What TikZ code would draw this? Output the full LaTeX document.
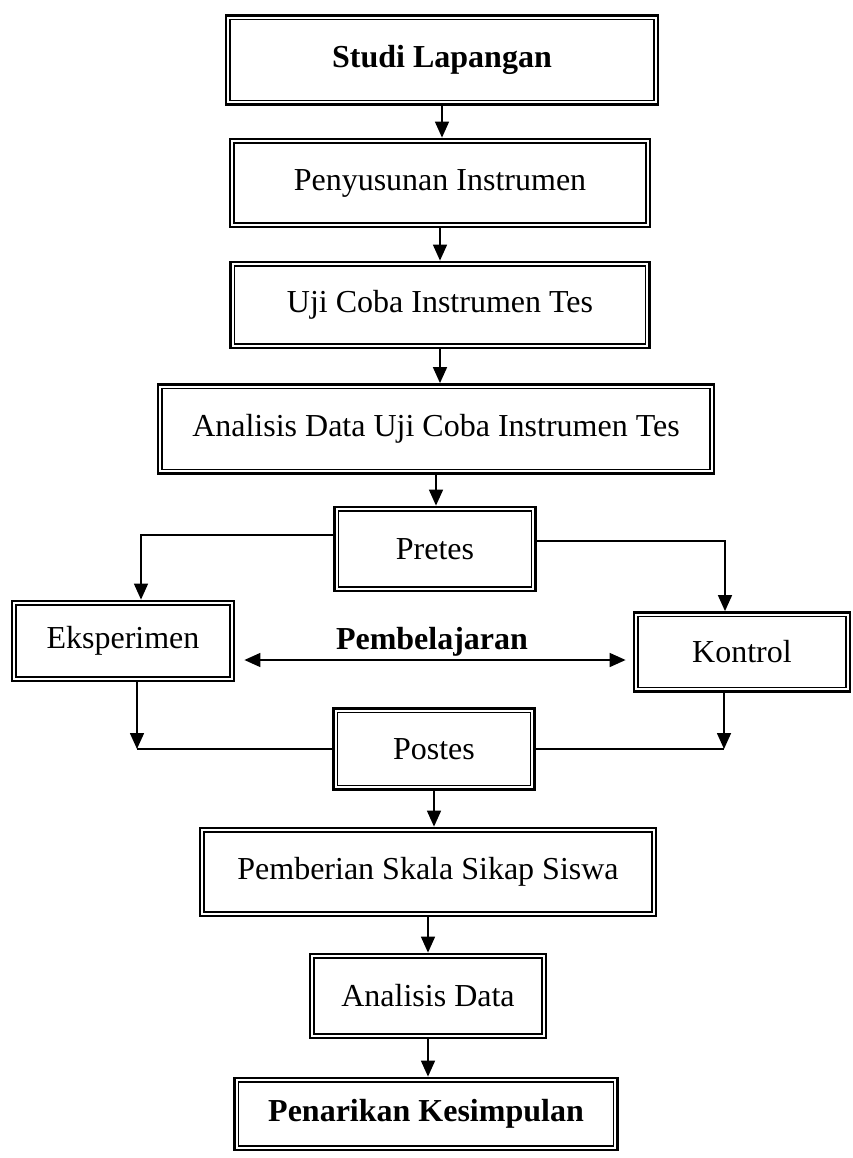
\documentclass[tikz,border=0pt]{standalone}
\usepackage{fontspec}
\setmainfont{Liberation Serif}
\usetikzlibrary{arrows.meta}
\tikzset{
  box/.style={draw, line width=2.8pt, inner sep=0pt, align=center,
    font=\fontsize{32}{38}\selectfont},
  boldbox/.style={box, font=\fontsize{32}{38}\selectfont\bfseries},
  inner/.style={line width=1.4pt},
  conn/.style={line width=1.6pt},
  arr/.style={conn, -{Triangle[length=16pt,width=14pt]}},
  dblarr/.style={conn, {Triangle[length=16pt,width=14pt]}-{Triangle[length=16pt,width=14pt]}}
}
\begin{document}
\begin{tikzpicture}[x=1pt,y=-1pt]
\useasboundingbox (0,0) rectangle (852,1158);
\node[boldbox, minimum width=432pt, minimum height=89pt] (studi) at (442,60) {Studi Lapangan};
\node[box, minimum width=420pt, minimum height=88pt] (susun) at (440,183) {Penyusunan Instrumen};
\node[box, minimum width=419pt, minimum height=86pt] (uji) at (440,305) {Uji Coba Instrumen Tes};
\node[box, minimum width=556pt, minimum height=89pt] (anauji) at (436,429) {Analisis Data Uji Coba Instrumen Tes};
\node[box, minimum width=201pt, minimum height=84pt] (pretes) at (435,549) {Pretes};
\node[box, minimum width=222pt, minimum height=80pt] (eksp) at (123,641) {Eksperimen};
\node[box, minimum width=216pt, minimum height=79pt] (kontrol) at (742,652) {Kontrol};
\node[box, minimum width=201pt, minimum height=81pt] (postes) at (434,749) {Postes};
\node[box, minimum width=456pt, minimum height=88pt] (skala) at (428,872) {Pemberian Skala Sikap Siswa};
\node[box, minimum width=236pt, minimum height=84pt] (anadata) at (428,996) {Analisis Data};
\node[boldbox, minimum width=383pt, minimum height=72pt] (tarik) at (426,1114) {Penarikan Kesimpulan};
\node[font=\fontsize{32}{38}\selectfont\bfseries] (belajar) at (432,642) {Pembelajaran};

\foreach \n in {studi,susun,uji,anauji,pretes,eksp,kontrol,postes,skala,anadata,tarik}
  \draw[inner] ([xshift=5.5pt,yshift=-5.5pt]\n.north west) rectangle ([xshift=-5.5pt,yshift=5.5pt]\n.south east);

\draw[arr] (studi.south) -- (studi.south |- susun.north);
\draw[arr] (susun.south) -- (susun.south |- uji.north);
\draw[arr] (uji.south) -- (uji.south |- anauji.north);
\draw[arr] (anauji.south) -- (anauji.south |- pretes.north);
\draw[arr] ([yshift=14pt]pretes.west) -| ([xshift=18pt]eksp.north);
\draw[arr] ([yshift=8pt]pretes.east) -| ([xshift=-17pt]kontrol.north);
\draw[dblarr] ([xshift=9pt,yshift=-19pt]eksp.east) -- ([xshift=-7pt,yshift=-8pt]kontrol.west);
\coordinate (cl) at ([xshift=14pt]eksp.south |- postes.west);
\coordinate (cr) at ([xshift=-18pt]kontrol.south |- postes.east);
\draw[arr] ([xshift=14pt]eksp.south) -- (cl);
\draw[conn] (cl) -- (postes.west);
\draw[arr] ([xshift=-18pt]kontrol.south) -- (cr);
\draw[conn] (postes.east) -- (cr);
\draw[arr] (postes.south) -- (postes.south |- skala.north);
\draw[arr] (skala.south) -- (skala.south |- anadata.north);
\draw[arr] (anadata.south) -- (anadata.south |- tarik.north);
\end{tikzpicture}
\end{document}
